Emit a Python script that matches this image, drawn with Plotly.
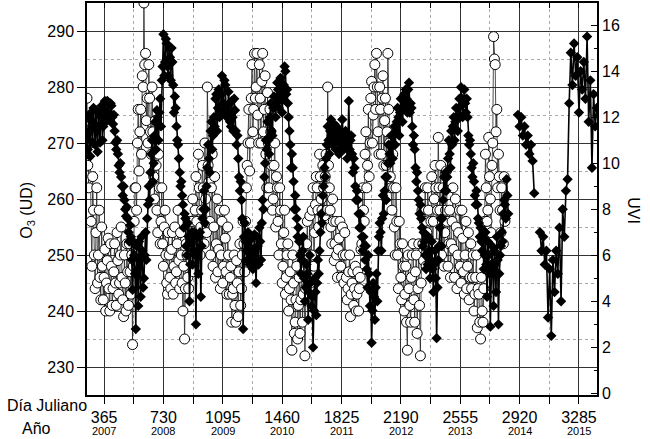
import plotly.graph_objects as go

STEP = 5  # days between plotted samples

# ozone column (UD): values on days 260, 270, ... and on the days in between (265, 275, ...)
o3_start = 260
o3_even = [
    278, 262, 270, 248, 258, 244, 262, 250, 246, 255,
    242, 251, 245, 253, 240, 248, 244, 252, 241, 249,
    245, 255, 242, 250, 240, 247, 252, 243, 234, 256,
    262, 270, 265, 276, 282, 295, 286,
    278, 284, 272, 280, 264, 274, 258, 268, 252, 262,
    248, 258, 245, 254, 246, 251, 243, 255, 247, 258,
    244, 250, 240, 235, 252, 246, 256, 249, 260, 253,
    264, 251, 262, 255, 266, 252, 260,
    280, 263, 250, 268, 255, 246, 260, 251, 244, 256,
    248, 253, 243, 250, 246, 238, 244, 241, 249, 239,
    252, 244, 256, 247, 262, 270, 265, 278, 272, 286,
    280, 275, 284, 270, 286, 276, 268,
    279, 262, 272, 258, 266, 255, 262, 250, 258, 245,
    254, 243, 250, 240, 247, 233, 245, 238, 248, 241,
    236, 250, 243, 232, 252, 246, 257, 250, 262, 254,
    264, 258, 268, 260, 266, 257, 268,
    280, 262, 255, 260, 249, 256, 246, 253, 248, 255,
    245, 250, 242, 247, 239, 245, 241, 248, 243, 240,
    246, 252, 258, 268, 262, 276, 270, 281, 275, 284,
    286, 272, 280, 268, 282, 274, 266,
    286, 270, 262, 268, 255, 262, 250, 256, 246, 252,
    240, 248, 233, 244, 238, 250, 242, 247, 236, 252,
    232, 258, 249, 262, 254, 258, 248, 264, 256, 266,
    252, 271, 258, 250, 262, 254, 265,
    248, 258, 252, 262, 246, 255, 250, 258, 245, 253,
    243, 256, 248, 242, 252, 246, 240, 246, 237, 243,
    235, 240, 244, 268, 256, 271, 260, 266, 289, 284,
    276, 268, 258, 262, 252, 256,
]
o3_odd = [
    266, 274, 256, 264, 250, 254, 245, 258, 242, 248,
    246, 240, 249, 244, 252, 241, 247, 245, 254, 243,
    250, 246, 239, 245, 252, 241, 247, 250, 248, 262,
    258, 276, 272, 268, 280, 284,
    274, 270, 278, 268, 272, 260, 266, 254, 262, 256,
    252, 255, 250, 243, 250, 244, 254, 248, 245, 252,
    249, 254, 245, 248, 244, 250, 244, 252, 256, 247,
    258, 256, 268, 250, 258, 262, 270,
    254, 266, 256, 262, 248, 264, 252, 247, 258, 250,
    245, 258, 247, 255, 243, 248, 243, 250, 238, 245,
    247, 241, 250, 252, 256, 266, 276, 270, 284, 276,
    278, 286, 270, 278, 281, 272, 282,
    262, 270, 276, 266, 260, 270, 264, 256, 262, 252,
    248, 258, 246, 252, 244, 242, 250, 236, 242, 235,
    246, 242, 238, 247, 244, 256, 250, 245, 258, 248,
    259, 262, 255, 264, 258, 262, 264,
    258, 266, 258, 252, 256, 252, 250, 251, 256, 246,
    250, 254, 246, 244, 250, 243, 247, 244, 240, 247,
    244, 251, 262, 256, 272, 266, 264, 278, 270, 280,
    276, 280, 268, 276, 278, 266, 278,
    272, 276, 264, 258, 262, 250, 256, 244, 252, 242,
    248, 243, 238, 250, 241, 246, 252, 238, 250, 244,
    241, 245, 252, 256, 248, 262, 252, 256, 250, 260,
    262, 258, 262, 266, 256, 248, 258,
    256, 252, 246, 256, 251, 260, 244, 254, 248, 258,
    247, 250, 244, 254, 246, 244, 250, 243, 250, 244,
    238, 246, 238, 256, 262, 258, 264, 254, 270, 285,
    272, 262, 264, 254, 258, 264,
]

# UV index: main record (days 260-2850, same even/odd layout) and three later stretches
uvi_a_start = 260
uvi_a_even = [
    11.2, 12.0, 10.3, 11.8, 12.4, 10.8, 11.5, 12.2, 10.9, 12.5,
    11.6, 12.7, 12.0, 12.6, 12.1, 12.5, 11.7, 11.4, 10.6, 10.4,
    9.6, 9.4, 8.6, 8.4, 7.7, 7.6, 6.6, 6.8, 4.5, 6.0,
    2.8, 5.4, 6.6, 4.2, 6.2, 5.0, 7.0,
    7.6, 9.0, 9.6, 11.0, 10.0, 11.8, 12.3, 11.0, 12.8, 13.6,
    15.6, 14.4, 15.2, 13.8, 14.6, 15.0, 13.4, 12.9, 11.6, 10.8,
    9.6, 9.2, 8.2, 7.8, 6.4, 7.4, 4.0, 6.6, 5.6, 7.0,
    3.0, 6.2, 6.8, 4.2, 7.6, 8.8, 8.0,
    9.8, 10.2, 11.4, 10.6, 12.0, 12.8, 11.4, 13.2, 12.2, 13.8,
    12.6, 13.4, 12.0, 13.1, 11.8, 12.7, 11.4, 12.3, 10.8, 10.2,
    8.8, 8.4, 2.8, 7.4, 6.2, 7.0, 5.6, 6.7, 5.4, 6.9,
    4.8, 6.4, 7.2, 5.8, 8.4, 9.4, 11.0,
    11.8, 10.4, 12.6, 11.2, 12.9, 12.0, 13.5, 12.4, 13.7, 12.2,
    13.4, 14.0, 13.2, 12.0, 10.8, 10.4, 9.2, 8.6, 7.6, 7.2,
    6.0, 5.8, 6.8, 4.0, 5.6, 3.2, 6.0, 3.8, 2.0, 5.0,
    3.4, 5.8, 6.2, 7.8, 8.6, 9.8, 10.2,
    11.6, 10.4, 11.9, 10.8, 11.7, 10.6, 11.5, 10.4, 11.3, 11.9,
    10.6, 11.4, 10.2, 12.7, 11.0, 10.4, 10.2, 9.0, 8.8, 7.8,
    7.8, 6.8, 6.8, 5.8, 5.4, 6.0, 3.8, 2.2, 4.8, 3.2,
    5.2, 6.2, 7.4, 6.2, 8.6, 8.8, 8.4,
    10.0, 10.4, 11.2, 10.2, 11.6, 11.4, 12.4, 11.2, 12.8, 11.8,
    13.0, 13.2, 12.2, 13.5, 12.6, 11.6, 11.2, 9.8, 9.6, 8.4,
    8.2, 7.2, 7.0, 6.0, 6.0, 6.8, 5.0, 6.6, 4.4, 6.2,
    2.4, 5.8, 7.2, 6.4, 8.4, 8.8, 8.8,
    10.2, 10.4, 11.4, 11.6, 11.0, 12.4, 11.4, 12.8, 13.3, 12.0,
    13.2, 12.2, 12.0, 10.8, 10.4, 9.4, 9.2, 8.2, 8.2, 7.4,
    7.2, 6.2, 5.4, 7.0, 4.2, 6.0, 2.9, 6.4, 3.8, 5.6,
    6.8, 3.0, 6.0, 7.0, 7.8, 8.2, 9.3, 7.8,
]
uvi_a_odd = [
    10.6, 11.4, 12.2, 10.9, 11.7, 12.3, 10.5, 11.6, 12.0, 11.0,
    12.3, 11.8, 12.7, 11.9, 12.6, 12.0, 12.1, 10.9, 11.0, 9.9,
    10.0, 9.0, 9.0, 8.0, 8.1, 7.0, 7.3, 5.8, 6.6, 5.2,
    6.4, 3.8, 5.8, 6.8, 4.6, 6.0,
    5.8, 8.2, 8.4, 10.4, 9.2, 11.2, 10.6, 12.0, 12.2, 11.6,
    14.2, 13.8, 15.4, 14.2, 15.0, 13.6, 14.4, 12.2, 12.4, 11.0,
    10.2, 9.0, 8.6, 7.2, 7.6, 6.0, 6.8, 5.6, 7.0, 6.2,
    6.0, 6.8, 5.2, 7.0, 6.4, 8.0, 7.4,
    9.0, 10.8, 9.6, 11.8, 11.2, 11.6, 13.0, 12.4, 12.0, 13.0,
    12.2, 13.6, 12.4, 12.2, 12.6, 11.6, 12.0, 12.8, 11.4, 11.2,
    9.4, 9.2, 7.6, 6.8, 6.6, 5.8, 6.4, 6.0, 5.8, 6.2,
    5.6, 6.8, 5.6, 6.6, 7.4, 8.0, 10.0,
    10.6, 11.0, 12.0, 11.4, 12.4, 12.6, 12.6, 13.2, 12.8, 13.2,
    12.8, 14.2, 13.0, 12.6, 11.4, 9.8, 9.8, 8.0, 8.0, 6.8,
    6.6, 5.2, 6.2, 5.0, 4.6, 5.2, 4.4, 4.8, 4.2, 3.6,
    4.4, 4.8, 5.2, 7.0, 7.4, 9.0, 9.4,
    10.8, 11.0, 11.4, 11.2, 11.4, 11.0, 11.6, 11.0, 11.0, 10.8,
    11.2, 11.0, 10.8, 11.2, 10.6, 11.2, 9.6, 9.8, 8.4, 8.4,
    7.2, 7.2, 6.2, 6.4, 6.4, 4.6, 5.2, 4.4, 3.6, 4.2,
    4.6, 4.0, 6.8, 7.0, 7.6, 7.8, 9.4,
    9.4, 10.8, 10.0, 10.8, 11.2, 10.8, 11.8, 12.0, 12.2, 12.4,
    12.4, 12.6, 12.8, 13.2, 12.2, 12.4, 10.8, 10.6, 9.2, 8.8,
    7.8, 7.6, 6.4, 6.6, 5.4, 5.6, 6.2, 5.8, 5.4, 5.6,
    5.0, 4.6, 6.4, 7.6, 7.6, 9.4, 9.6,
    9.4, 11.0, 9.8, 10.8, 12.0, 11.8, 12.0, 12.4, 12.0, 12.8,
    12.6, 12.6, 12.8, 11.2, 11.0, 9.8, 10.0, 8.6, 8.8, 7.6,
    6.8, 6.6, 6.8, 6.0, 5.6, 6.6, 5.2, 5.6, 5.4, 6.2,
    4.4, 5.8, 5.2, 6.4, 6.6, 8.4, 7.6, 8.6,
]
uvi_b_start = 2910
uvi_b = [12.1, 11.6, 12.0, 11.2, 11.6, 10.8, 11.2, 10.4, 10.8, 10.1, 8.7]
uvi_c_start = 3045
uvi_c = [7.0, 6.2, 6.8, 5.6, 6.2, 3.3, 5.4, 2.5, 5.8, 4.4,
         6.2, 5.2, 7.2, 4.0, 8.0, 6.8, 8.8, 9.3]
uvi_d_start = 3225
uvi_d = [12.6, 14.8, 13.4, 15.2, 13.8, 14.6, 12.2, 14.0, 13.2, 14.4,
         12.8, 15.5, 11.8, 13.6, 9.8, 13.0, 11.6, 12.4]

tick_days = [365, 730, 1095, 1460, 1825, 2190, 2555, 2920, 3285]
tick_years = ['2007', '2008', '2009', '2010', '2011', '2012', '2013', '2014', '2015']


def interleave(even, odd):
    out = []
    for i, v in enumerate(even):
        out.append(v)
        if i < len(odd):
            out.append(odd[i])
    return out


def day_axis(start, vals, step):
    return list(range(start, start + step * len(vals), step))


o3_vals = interleave(o3_even, o3_odd)
uvi_a = interleave(uvi_a_even, uvi_a_odd)

uvi_x = (day_axis(uvi_a_start, uvi_a, STEP) + [None]
         + day_axis(uvi_b_start, uvi_b, 10) + [None]
         + day_axis(uvi_c_start, uvi_c, 10) + day_axis(uvi_d_start, uvi_d, 10))
uvi_y = uvi_a + [None] + uvi_b + [None] + uvi_c + uvi_d

FONT = 'Liberation Sans, Arial, sans-serif'
X_RANGE = [260, 3396]

fig = go.Figure()
fig.add_trace(go.Scatter(
    x=day_axis(o3_start, o3_vals, STEP), y=o3_vals, mode='lines+markers',
    line=dict(color='#222', width=0.8),
    marker=dict(symbol='circle', size=10, color='white', line=dict(color='black', width=1)),
    name='O3'
))
fig.add_trace(go.Scatter(
    x=uvi_x, y=uvi_y, mode='lines+markers', yaxis='y2', connectgaps=False,
    line=dict(color='black', width=1.6),
    marker=dict(symbol='diamond', size=8, color='black'),
    name='UVI'
))
# empty trace to carry the inside ticks on the top edge
fig.add_trace(go.Scatter(x=[None], y=[None], xaxis='x2', showlegend=False, hoverinfo='skip'))

annotations = [
    dict(x=d, y=-0.092, xref='x', yref='paper', text=yr, showarrow=False,
         font=dict(size=11), xanchor='center', yanchor='middle')
    for d, yr in zip(tick_days, tick_years)
]
annotations += [
    dict(x=-0.161, y=-0.026, xref='paper', yref='paper', text='Día Juliano', showarrow=False,
         xanchor='left', yanchor='middle', font=dict(size=16)),
    dict(x=-0.132, y=-0.085, xref='paper', yref='paper', text='Año', showarrow=False,
         xanchor='left', yanchor='middle', font=dict(size=16)),
    dict(x=-0.116, y=0.472, xref='paper', yref='paper', text='O<sub>3</sub> (UD)', showarrow=False,
         textangle=-90, xanchor='center', yanchor='middle', font=dict(size=16)),
    dict(x=1.0725, y=0.469, xref='paper', yref='paper', text='UVI', showarrow=False,
         textangle=90, xanchor='center', yanchor='middle', font=dict(size=16)),
]

fig.update_layout(
    template='none',
    width=650, height=439,
    margin=dict(l=87, r=53, t=3, b=44, autoexpand=False),
    plot_bgcolor='white', paper_bgcolor='white',
    font=dict(family=FONT, size=16, color='black'),
    showlegend=False,
    annotations=annotations,
    xaxis=dict(
        range=X_RANGE, tickvals=tick_days, ticktext=[str(d) for d in tick_days],
        automargin=False,
        ticks='outside', ticklen=7, tickcolor='black', tickwidth=1,
        showline=True, linecolor='black', linewidth=1.5, mirror=True,
        showgrid=True, gridcolor='#333', gridwidth=1, zeroline=False,
        minor=dict(tick0=0, dtick=182.5, ticks='outside', ticklen=7, tickcolor='black',
                   showgrid=True, gridcolor='#aaa', griddash='dot', gridwidth=1),
    ),
    xaxis2=dict(
        overlaying='x', side='top', anchor='y', range=X_RANGE, tickvals=tick_days,
        automargin=False,
        showticklabels=False, ticks='inside', ticklen=5, tickcolor='black',
        showgrid=False, zeroline=False,
        minor=dict(tick0=0, dtick=182.5, ticks='inside', ticklen=5, tickcolor='black', showgrid=False),
    ),
    yaxis=dict(
        range=[225, 295], tickvals=list(range(230, 291, 10)),
        automargin=False,
        ticks='outside', ticklen=8, tickcolor='black',
        showline=True, linecolor='black', linewidth=1.5, mirror=True,
        showgrid=True, gridcolor='#333', gridwidth=1, zeroline=False,
        minor=dict(tick0=0, dtick=5, showgrid=True, gridcolor='#aaa', griddash='dot', gridwidth=1),
    ),
    yaxis2=dict(
        overlaying='y', side='right', anchor='x', range=[-0.07, 16.96],
        automargin=False,
        tickvals=list(range(0, 17, 2)), ticks='inside', ticklen=6, tickcolor='black',
        showgrid=False, zeroline=False, ticklabelstandoff=4,
        minor=dict(tick0=0, dtick=1, ticks='inside', ticklen=3, tickcolor='black', showgrid=False),
    ),
)

# the page body has a default 8px margin; remove it so the figure sits at the window corner
fig.write_html("out.html", config={'displayModeBar': False},
               post_script="document.body.style.margin='0';")
